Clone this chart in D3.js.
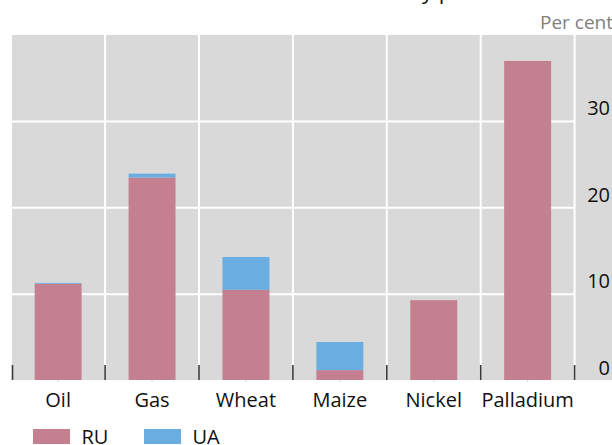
<!DOCTYPE html>
<html>
<head>
<meta charset="utf-8">
<script src="https://cdn.jsdelivr.net/npm/d3@7"></script>
<style>
  body { margin: 0; background: #fff; }
  svg { display: block; font-family: "Open Sans", "Noto Sans", sans-serif; }
</style>
</head>
<body>
<div id="chart"></div>
<script>
const categories = ['Oil', 'Gas', 'Wheat', 'Maize', 'Nickel', 'Palladium'];
const ruValues = [11.2, 23.5, 10.5, 1.2, 9.3, 37.0];
const uaValues = [0.1, 0.45, 3.8, 3.25, 0, 0];
const yTicks = [0, 10, 20, 30];
const seriesNames = ['RU', 'UA'];
const seriesColors = ['#c48090', '#6aade0'];

const width = 612;
const height = 445;
const plot = {left: 11.2, right: 574.6, top: 35, bottom: 380.5};

const svg = d3.select('#chart').append('svg')
  .attr('width', width)
  .attr('height', height);

const x = d3.scaleBand()
  .domain(categories)
  .range([plot.left, plot.right])
  .paddingInner(0)
  .paddingOuter(0);

const y = d3.scaleLinear()
  .domain([0, 40])
  .range([plot.bottom, plot.top]);

// grey panel, runs off the right edge like the source
svg.append('rect')
  .attr('x', 12)
  .attr('y', plot.top)
  .attr('width', width - 12)
  .attr('height', 380 - plot.top)
  .attr('fill', '#d9d9d9');

// horizontal grid
svg.append('g')
  .selectAll('line')
  .data(yTicks.filter(d => d > 0))
  .join('line')
  .attr('x1', 12)
  .attr('x2', plot.right)
  .attr('y1', d => y(d))
  .attr('y2', d => y(d))
  .attr('stroke', '#fff')
  .attr('stroke-width', 2);

// vertical grid at band edges
const edges = categories.map(c => x(c) + x.bandwidth());
svg.append('g')
  .selectAll('line')
  .data(edges)
  .join('line')
  .attr('x1', d => d)
  .attr('x2', d => d)
  .attr('y1', plot.top)
  .attr('y2', 380)
  .attr('stroke', '#fff')
  .attr('stroke-width', 2);

// stacked bars
const rows = categories.map((c, i) => ({cat: c, RU: ruValues[i], UA: uaValues[i]}));
const stacked = d3.stack().keys(seriesNames)(rows);
const barW = x.bandwidth() * 0.5;

svg.append('g')
  .selectAll('g')
  .data(stacked)
  .join('g')
  .attr('fill', (d, i) => seriesColors[i])
  .selectAll('rect')
  .data(d => d.filter(p => p[1] - p[0] > 0))
  .join('rect')
  .attr('x', d => x(d.data.cat) + (x.bandwidth() - barW) / 2)
  .attr('width', barW)
  .attr('y', d => y(d[1]))
  .attr('height', d => Math.min(y(d[0]), 380) - y(d[1]));

// bottom ticks at band edges
svg.append('g')
  .selectAll('line')
  .data([x(categories[0])].concat(edges))
  .join('line')
  .attr('x1', d => Math.max(d, 12.5))
  .attr('x2', d => Math.max(d, 12.5))
  .attr('y1', 365)
  .attr('y2', 380)
  .attr('stroke', '#3a3a3a')
  .attr('stroke-width', 1.6);

// tiny centre ticks
svg.append('g')
  .selectAll('line')
  .data(categories)
  .join('line')
  .attr('x1', d => x(d) + x.bandwidth() / 2)
  .attr('x2', d => x(d) + x.bandwidth() / 2)
  .attr('y1', 380)
  .attr('y2', 382)
  .attr('stroke', '#d0d0d0')
  .attr('stroke-width', 1);

// x labels
svg.append('g')
  .selectAll('text')
  .data(categories)
  .join('text')
  .attr('x', d => x(d) + x.bandwidth() / 2)
  .attr('y', 406.5)
  .attr('text-anchor', 'middle')
  .attr('font-size', 20)
  .attr('fill', '#111')
  .text(d => d);

// y labels on the right
svg.append('g')
  .selectAll('text')
  .data(yTicks)
  .join('text')
  .attr('x', 610)
  .attr('y', d => y(d) - 6)
  .attr('text-anchor', 'end')
  .attr('font-size', 20)
  .attr('fill', '#111')
  .text(d => d);

// unit
svg.append('text')
  .attr('x', 613)
  .attr('y', 29)
  .attr('text-anchor', 'end')
  .attr('font-size', 19)
  .attr('fill', '#808080')
  .text('Per cent');

// title, cropped off the top in the source
const title = svg.append('text')
  .attr('x', 0)
  .attr('y', -1.5)
  .attr('font-size', 22)
  .attr('fill', '#111')
  .text("Russia and Ukraine's share of commodity production");
const yIdx = title.text().indexOf('y p');
const yPos = title.node().getStartPositionOfChar(yIdx).x;
title.attr('x', 422 - yPos);

// legend
const legend = svg.append('g')
  .selectAll('g')
  .data(seriesNames)
  .join('g')
  .attr('transform', (d, i) => `translate(${33 + i * 111}, 429)`);

legend.append('rect')
  .attr('width', 37)
  .attr('height', 15)
  .attr('fill', (d, i) => seriesColors[i]);

legend.append('text')
  .attr('x', 48.5)
  .attr('y', 15)
  .attr('font-size', 20)
  .attr('fill', '#111')
  .text(d => d);
</script>
</body>
</html>
